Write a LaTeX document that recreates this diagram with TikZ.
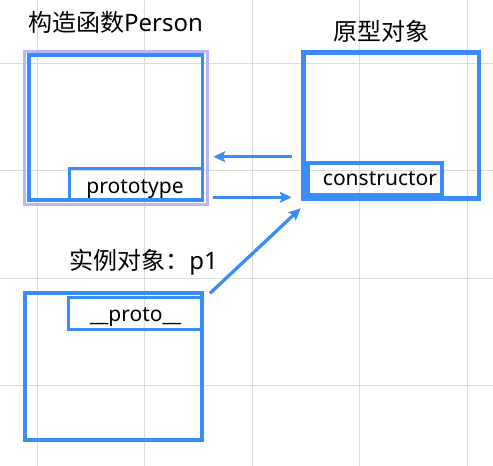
\documentclass[tikz,border=0pt]{standalone}
\usepackage{fontspec}
\setmainfont{Noto Sans}
\newfontfamily\cjk{Noto Sans CJK SC}
\usetikzlibrary{arrows.meta}
\definecolor{bblue}{RGB}{58,141,248}
\definecolor{lav}{RGB}{182,182,255}
\definecolor{gridc}{RGB}{220,220,220}
\tikzset{
  gridline/.style={draw=gridc, line width=1pt},
  boxshape/.style={draw=bblue, rectangle, inner sep=0pt, outer sep=0pt},
  titletext/.style={anchor=base, inner sep=0pt, font=\fontsize{24}{28}\selectfont},
  labeltext/.style={anchor=base, inner sep=0pt, font=\fontsize{21}{25}\selectfont},
  link/.style={draw=bblue, line width=3.3pt, -{Stealth[length=12pt,width=11pt,inset=2.5pt]}}
}
\begin{document}
\begin{tikzpicture}[x=1pt,y=-1pt]
\useasboundingbox[fill=white] (0,0) rectangle (493,466);
% grid
\foreach \gx in {37,144.5,252,359.5,467} \draw[gridline] (\gx,0) -- (\gx,466);
\foreach \gy in {63,170.5,278,385.5} \draw[gridline] (0,\gy) -- (493,\gy);
% titles
\node[titletext] (t1) at (115.5,31) {{\cjk 构造函数}Person};
\node[titletext] (t2) at (381,40.8) {\cjk 原型对象};
\node[titletext] (t3) at (143.5,269.3) {{\cjk 实例对象：}p1};
% box 1 (Person)
\node[draw=lav, rectangle, line width=3pt, minimum width=183.4pt, minimum height=153pt, inner sep=0pt] (sel) at (116,127.8) {};
\node[boxshape, line width=3.3pt, minimum width=173.3pt, minimum height=145pt] (person) at (115.65,127.5) {};
\node[boxshape, line width=3.3pt, minimum width=133pt, minimum height=31.7pt] (protobox) at (135.8,184.15) {};
\node[labeltext] (protolabel) at (135,193) {prototype};
% box 2 (prototype object)
\node[boxshape, line width=4.5pt, minimum width=175.7pt, minimum height=146pt] (proto) at (391.15,125.5) {};
\node[boxshape, line width=4pt, minimum width=134.2pt, minimum height=31.5pt] (ctorbox) at (374.6,178.75) {};
\node[labeltext] (ctorlabel) at (380,185.7) {constructor};
% box 3 (instance)
\node[boxshape, line width=4pt, minimum width=176.7pt, minimum height=147.3pt] (inst) at (113.65,366.65) {};
\node[boxshape, line width=3.5pt, minimum width=133.3pt, minimum height=31.8pt] (dunderbox) at (135.35,313.4) {};
\node[labeltext] (dunderlabel) at (135.5,321) {\_\_proto\_\_};
% arrow end points
\coordinate (a1s) at (291.7,156.7);
\coordinate (a1e) at (213.3,156.7);
\coordinate (a2s) at (213.3,197.3);
\coordinate (a2e) at (291.7,197.3);
\coordinate (a3s) at (210,293.3);
\coordinate (a3e) at (300.7,208.3);
\draw[link] (a1s) -- (a1e);
\draw[link] (a2s) -- (a2e);
\draw[link] (a3s) -- (a3e);
\end{tikzpicture}
\end{document}
